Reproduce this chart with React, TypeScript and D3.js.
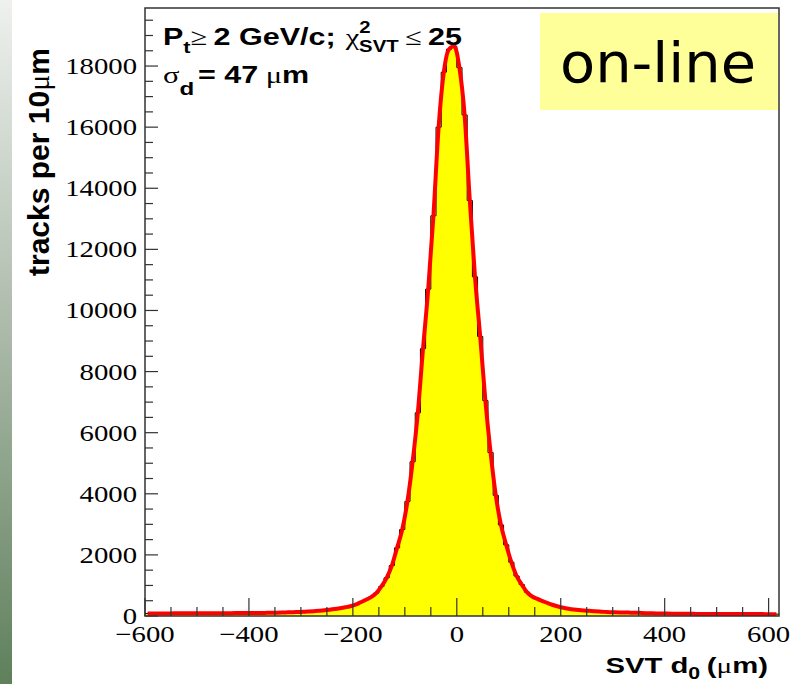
import React from "react";
import * as d3 from "d3";

// ---- data ----
const binWidth = 10; // μm
const xDomain = [-600, 620];
const yDomain = [0, 19900];
const binEdges = d3.range(-600, 620, binWidth); // lower edges of 122 bins
const counts = [
  82, 83, 84, 84, 85, 86, 86, 87, 88, 88,
  89, 90, 90, 91, 92, 93, 94, 95, 96, 97,
  98, 100, 101, 103, 106, 110, 114, 119, 124, 130,
  136, 146, 157, 170, 185, 205, 228, 255, 285, 320,
  370, 450, 530, 620, 750, 970, 1250, 1650, 2230, 2830,
  3750, 5050, 6650, 8750, 10700, 13100, 16000, 17800, 18550, 18650,
  17950, 16400, 13600, 11100, 9150, 7050, 5350, 3950, 2980, 2330,
  1760, 1310, 1030, 780, 640, 560, 490, 420, 360, 310,
  270, 240, 215, 195, 180, 168, 156, 145, 135, 126,
  120, 116, 113, 110, 107, 100, 93, 88, 84, 81,
  78, 76, 74, 72, 71, 70, 69, 68, 67, 66,
  65, 65, 64, 64, 63, 63, 62, 62, 62, 61,
  61, 60,
];
const xMajorTicks = [-600, -400, -200, 0, 200, 400, 600];
const xMinorTicks = d3.range(-600, 601, 50);
const yMajorTicks = [0, 2000, 4000, 6000, 8000, 10000, 12000, 14000, 16000, 18000];
const yMinorTicks = d3.range(0, 19901, 500);
const xTickLabels = ["\u2212600", "\u2212400", "\u2212200", "0", "200", "400", "600"];

const W = 796;
const H = 684;
const plot = { left: 145, right: 779, top: 8, bottom: 616 };
const SX = 1.25; // horizontal stretch of the original picture text

export default function App() {
  const x = d3.scaleLinear().domain(xDomain).range([plot.left, plot.right]);
  const y = d3.scaleLinear().domain(yDomain).range([plot.bottom, plot.top]);

  const pts: [number, number][] = binEdges.map((lo, i) => [lo, counts[i]]);
  pts.push([xDomain[1], counts[counts.length - 1]]);
  const area = d3
    .area<[number, number]>()
    .curve(d3.curveStepAfter)
    .x((d) => x(d[0]))
    .y0(y(0))
    .y1((d) => y(d[1]));
  const stepLine = d3
    .line<[number, number]>()
    .curve(d3.curveStepAfter)
    .x((d) => x(d[0]))
    .y((d) => y(d[1]));
  const centers: [number, number][] = binEdges.map((lo, i) => [lo + binWidth / 2, counts[i]]);
  const fit = d3
    .line<[number, number]>()
    .curve(d3.curveMonotoneX)
    .x((d) => x(d[0]))
    .y((d) => y(d[1]));

  const serif = "'Liberation Serif', 'Times New Roman', serif";
  const sans = "'Liberation Sans', Arial, sans-serif";

  return (
    <svg
      width={W}
      height={H}
      style={{ position: "absolute", left: 0, top: 0, background: "#fff" }}
    >
      <defs>
        <linearGradient id="strip" x1="0" y1="0" x2="0" y2="1">
          <stop offset="0" stopColor="#eef1ee" />
          <stop offset="0.5" stopColor="#a9b8a7" />
          <stop offset="1" stopColor="#5f805b" />
        </linearGradient>
        <clipPath id="plotclip">
          <rect x={plot.left} y={plot.top} width={plot.right - plot.left} height={plot.bottom - plot.top} />
        </clipPath>
      </defs>
      <rect x={0} y={0} width={12} height={H} fill="url(#strip)" />

      {/* histogram */}
      <g clipPath="url(#plotclip)">
        <path d={area(pts) || ""} fill="#ffff00" />
        <path d={stepLine(pts) || ""} fill="none" stroke="#000" strokeWidth={1} />
        <path d={fit(centers) || ""} fill="none" stroke="#ff0000" strokeWidth={4} strokeLinejoin="round" />
      </g>

      {/* frame */}
      <rect
        x={plot.left}
        y={plot.top}
        width={plot.right - plot.left}
        height={plot.bottom - plot.top}
        fill="none"
        stroke="#333"
        strokeWidth={1.5}
      />

      {/* y ticks */}
      {yMinorTicks.map((v) => {
        const major = v % 2000 === 0;
        return (
          <line key={"y" + v} x1={plot.left} x2={plot.left + (major ? 13 : 8)} y1={y(v)} y2={y(v)} stroke="#333" strokeWidth={1.2} />
        );
      })}
      {yMajorTicks.map((v) => (
        <g key={"yl" + v} transform={`translate(137,${y(v) + 8}) scale(${SX},1)`}>
          <text textAnchor="end" fontFamily={serif} fontSize={23} fill="#000">
            {String(v)}
          </text>
        </g>
      ))}

      {/* x ticks */}
      {xMinorTicks.map((v) => {
        const major = v % 200 === 0;
        return (
          <line key={"x" + v} x1={x(v)} x2={x(v)} y1={plot.bottom} y2={plot.bottom - (major ? 18 : 9)} stroke="#333" strokeWidth={1.2} />
        );
      })}
      {xMajorTicks.map((v, i) => (
        <g key={"xl" + v} transform={`translate(${x(v)},642) scale(${SX},1)`}>
          <text textAnchor="middle" fontFamily={serif} fontSize={23} fill="#000">
            {xTickLabels[i]}
          </text>
        </g>
      ))}

      {/* axis titles */}
      <g transform={`translate(768,673) scale(1.33,1)`}>
        <text textAnchor="end" fontFamily={sans} fontWeight="bold" fontSize={22} fill="#000">
          SVT d<tspan fontSize={16} dy={6}>0</tspan>
          <tspan dy={-6} dx={5}>(</tspan>
          <tspan fontFamily={serif} fontWeight="normal">μ</tspan>
          <tspan>m)</tspan>
        </text>
      </g>
      <g transform={`translate(49,276) rotate(-90)`}>
        <text fontFamily={sans} fontWeight="bold" fontSize={30} fill="#000">
          tracks per 10<tspan fontFamily={serif} fontWeight="normal">μ</tspan>m
        </text>
      </g>

      {/* annotation */}
      <g transform={`translate(163,45) scale(1.27,1)`}>
        <text fontFamily={sans} fontWeight="bold" fontSize={24} fill="#000">
          P<tspan fontSize={17} dy={8}>t</tspan>
          <tspan dy={-8} fontFamily={serif} fontWeight="normal">≥</tspan>
          <tspan dx={5}>2 GeV/c;</tspan>
          <tspan dx={8} fontFamily={serif} fontWeight="normal">χ</tspan>
          <tspan fontSize={16} dy={-12}>2</tspan>
          <tspan fontSize={16} dx={-9} dy={19}>SVT</tspan>
          <tspan dy={-7} dx={5} fontFamily={serif} fontWeight="normal">≤</tspan>
          <tspan dx={5}>25</tspan>
        </text>
      </g>
      <g transform={`translate(163,83) scale(1.27,1)`}>
        <text fontFamily={sans} fontWeight="bold" fontSize={24} fill="#000">
          <tspan fontFamily={serif} fontWeight="normal">σ</tspan>
          <tspan fontSize={19} dy={12}>d</tspan>
          <tspan dy={-12} dx={3}>= 47</tspan>
          <tspan dx={6} fontFamily={serif} fontWeight="normal">μ</tspan>
          <tspan>m</tspan>
        </text>
      </g>

      {/* on-line label */}
      <rect x={540} y={13} width={238} height={97} fill="#ffff99" />
      <text
        x={560}
        y={82}
        fontFamily="'DejaVu Sans', sans-serif"
        fontSize={56}
        textLength={196}
        lengthAdjust="spacingAndGlyphs"
        fill="#000"
      >
        on-line
      </text>
    </svg>
  );
}
